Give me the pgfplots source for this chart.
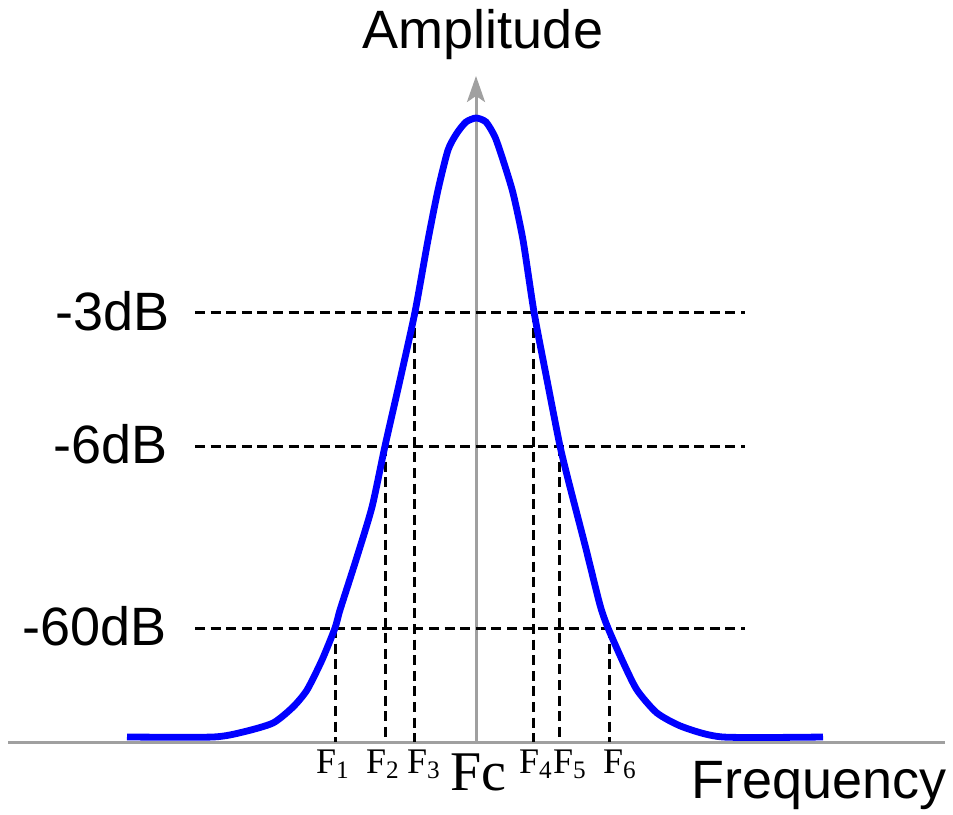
\documentclass[border=0pt]{standalone}
\usepackage{pgfplots}
\pgfplotsset{compat=1.18}
\usepackage{fontspec}
\setmainfont{Liberation Sans}
\newfontfamily\serifF{Liberation Serif}
\usetikzlibrary{arrows.meta}
\definecolor{curveblue}{RGB}{0,0,255}
\definecolor{axisgray}{RGB}{160,160,160}

\begin{document}
\begin{tikzpicture}
\begin{axis}[
  scale only axis,
  width=476.5pt, height=407pt,
  xmin=0, xmax=953, ymin=0, ymax=814,
  y dir=reverse,
  axis line style={draw=none},
  ticks=none,
  clip=false,
]

% axes
\addplot[axisgray, line width=1.5pt] coordinates {(8,742) (945,742)};
\addplot[axisgray, line width=1.5pt, -{Stealth[length=13pt, width=9pt, inset=3pt]}] coordinates {(476,742) (476,76)};

% level lines
\addplot[black, line width=1.5pt, dash pattern=on 5pt off 2.8pt] coordinates {(195,312) (745,312)};
\addplot[black, line width=1.5pt, dash pattern=on 5pt off 2.8pt] coordinates {(195,446) (745,446)};
\addplot[black, line width=1.5pt, dash pattern=on 5pt off 2.8pt] coordinates {(195,628) (745,628)};

% frequency drop lines
\addplot[black, line width=1.5pt, dash pattern=on 5pt off 2.8pt] coordinates {(335,628) (335,742)};
\addplot[black, line width=1.5pt, dash pattern=on 5pt off 2.8pt] coordinates {(385,446) (385,742)};
\addplot[black, line width=1.5pt, dash pattern=on 5pt off 2.8pt] coordinates {(414,312) (414,742)};
\addplot[black, line width=1.5pt, dash pattern=on 5pt off 2.8pt] coordinates {(533,312) (533,742)};
\addplot[black, line width=1.5pt, dash pattern=on 5pt off 2.8pt] coordinates {(559,446) (559,742)};
\addplot[black, line width=1.5pt, dash pattern=on 5pt off 2.8pt] coordinates {(609,628) (609,742)};

% response curve
\addplot[curveblue, line width=3.4pt, smooth, tension=0.4] coordinates {
(127,737) (213,737) (243,732) (273,723) (293,707) (307,690) (322,660)
(335,628) (340,610) (356,560) (372,507) (385,446) (400,380) (415,312)
(428,240) (438,190) (448,150) (457,133) (466,122) (476,118)
(486,122) (495,137) (503,160) (513,193) (523,240) (534,312) (547,380)
(560,446) (570,487) (585,545) (600,605) (608,628) (623,662) (637,690)
(657,713) (683,727) (723,737) (823,737)
};

% labels
\node[anchor=base, font=\fontsize{27}{32}\selectfont] at (axis cs:483,48) {Amplitude};
\node[anchor=base east, font=\fontsize{27}{32}\selectfont, inner sep=0pt] at (axis cs:947,798) {Frequency};
\node[anchor=base east, font=\fontsize{27}{32}\selectfont, inner sep=0pt] at (axis cs:170,330) {-3dB};
\node[anchor=base east, font=\fontsize{27}{32}\selectfont, inner sep=0pt] at (axis cs:168,463) {-6dB};
\node[anchor=base east, font=\fontsize{27}{32}\selectfont, inner sep=0pt] at (axis cs:167,645) {-60dB};

\node[anchor=base, font=\serifF\fontsize{18}{21}\selectfont, inner sep=0pt] at (axis cs:333,773) {F\textsubscript{1}};
\node[anchor=base, font=\serifF\fontsize{18}{21}\selectfont, inner sep=0pt] at (axis cs:383,773) {F\textsubscript{2}};
\node[anchor=base, font=\serifF\fontsize{18}{21}\selectfont, inner sep=0pt] at (axis cs:424,773) {F\textsubscript{3}};
\node[anchor=base, font=\serifF\fontsize{28}{32}\selectfont, inner sep=0pt] at (axis cs:478,790) {Fc};
\node[anchor=base, font=\serifF\fontsize{18}{21}\selectfont, inner sep=0pt] at (axis cs:536,773) {F\textsubscript{4}};
\node[anchor=base, font=\serifF\fontsize{18}{21}\selectfont, inner sep=0pt] at (axis cs:570,773) {F\textsubscript{5}};
\node[anchor=base, font=\serifF\fontsize{18}{21}\selectfont, inner sep=0pt] at (axis cs:620,773) {F\textsubscript{6}};

\end{axis}
\end{tikzpicture}
\end{document}
